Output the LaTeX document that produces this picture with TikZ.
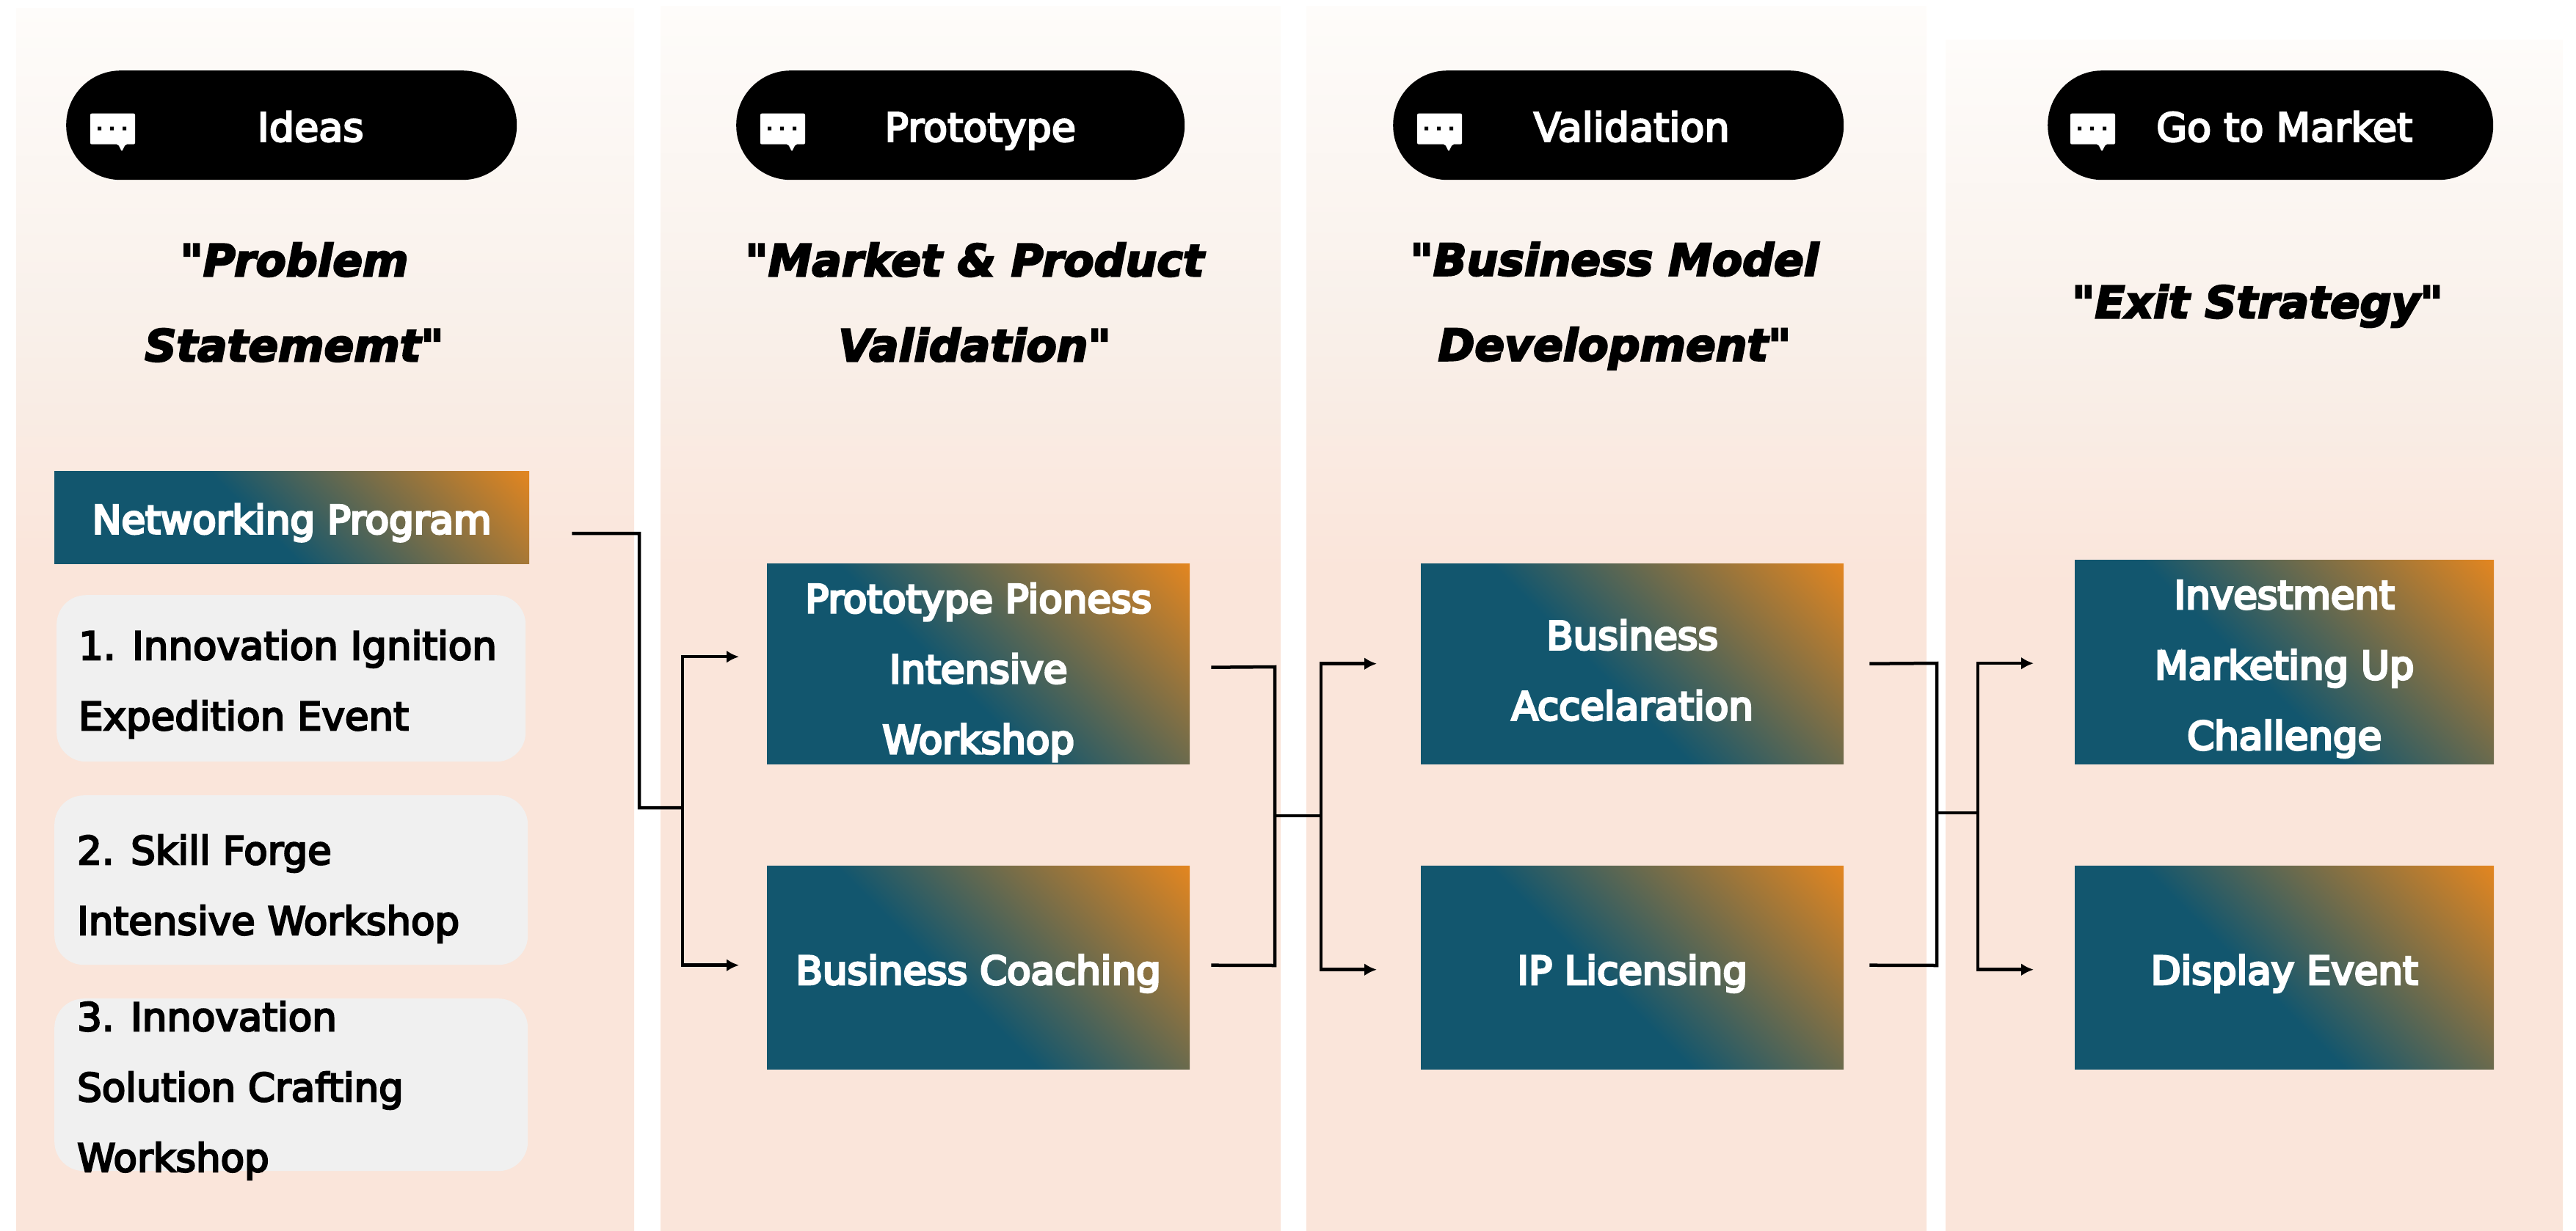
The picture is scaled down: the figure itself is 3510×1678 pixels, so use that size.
\documentclass[tikz,border=0pt]{standalone}
\usepackage{fontspec}
\setmainfont{DejaVu Sans}
\newfontfamily\headfont[FakeBold=4]{DejaVu Sans}
\newfontfamily\medfont[FakeBold=4.5]{DejaVu Sans}
\newfontfamily\strongfont[FakeBold=6]{DejaVu Sans}
\usetikzlibrary{arrows.meta,calc}
\definecolor{tealc}{HTML}{12566E}
\definecolor{orangec}{HTML}{E8871E}
\definecolor{ptop}{HTML}{FEFCFA}
\definecolor{pmid}{HTML}{F9F1EB}
\definecolor{pbot}{HTML}{FAE5DA}
\definecolor{grayb}{HTML}{F0F0F0}
\pgfdeclareverticalshading{panelshade}{100bp}{color(0bp)=(pbot); color(25bp)=(pbot); color(52bp)=(pbot); color(63bp)=(pmid); color(75bp)=(ptop); color(100bp)=(ptop)}
\pgfdeclareverticalshading{boxshade}{100bp}{color(0bp)=(tealc); color(45.3bp)=(tealc); color(86.5bp)=(orangec); color(100bp)=(orangec)}
\newcommand{\placed}[3]{\smash{\raisebox{#2}{\makebox[0pt]{\hspace*{#1}\hspace*{#1}#3}}}}
\newcommand{\lines}[1]{\parbox{640pt}{\centering #1}}
\newcommand{\leftlines}[2]{\smash{\raisebox{#1}{\parbox{583pt}{\raggedright #2}}}}
\tikzset{
  panel/.style={anchor=north west,inner sep=0pt,shading=panelshade,draw=none},
  pill/.style={anchor=north west,inner sep=0pt,fill=black,rounded corners=74pt,text=white,font=\medfont\fontsize{54}{60}\selectfont},
  gradbox/.style={anchor=north west,inner sep=0pt,shading=boxshade,shading angle=-45,text=white,font=\strongfont\fontsize{53}{96}\selectfont},
  graybox/.style={anchor=north west,inner sep=0pt,fill=grayb,rounded corners=40pt,font=\medfont\fontsize{53}{96}\selectfont,align=left},
  headtext/.style={inner sep=0pt,align=center,font=\headfont\fontsize{60}{116}\selectfont\bfseries\itshape},
  wire/.style={line width=4.5pt,draw=black},
  arrowwire/.style={wire,-{Latex[length=17pt,width=17pt]},shorten >=38pt},
  bubble/.pic={
    \fill[white,rounded corners=2pt] (0,0) -- (61,0) -- (61,42) -- (48,42) -- (43,52) -- (38,42) -- (0,42) -- cycle;
    \fill[black] (10,18) rectangle (15,23) (27,18) rectangle (32,23) (44,18) rectangle (49,23);
  }
}
\begin{document}
\begin{tikzpicture}[x=1pt,y=-1pt]
\useasboundingbox (0,0) rectangle (3510,1678);
% panels
\node[panel,minimum width=842pt,minimum height=1667pt] (c1) at (22,11) {};
\node[panel,minimum width=845pt,minimum height=1670pt] (c2) at (900,8) {};
\node[panel,minimum width=845pt,minimum height=1670pt] (c3) at (1780,8) {};
\node[panel,minimum width=841pt,minimum height=1624pt] (c4) at (2651,54) {};
% pills
\node[pill,minimum width=614pt,minimum height=149pt] (h1) at (90,96) {\placed{26pt}{-22pt}{Ideas}};
\node[pill,minimum width=611pt,minimum height=149pt] (h2) at (1003,96) {\placed{27pt}{-22pt}{Prototype}};
\node[pill,minimum width=614pt,minimum height=149pt] (h3) at (1898,96) {\placed{18pt}{-22pt}{Validation}};
\node[pill,minimum width=607pt,minimum height=149pt] (h4) at (2790,96) {\placed{19pt}{-22pt}{Go to Market}};
\pic at ([shift={(33pt,16pt)}]h1.west) {bubble};
\pic at ([shift={(33pt,16pt)}]h2.west) {bubble};
\pic at ([shift={(33pt,16pt)}]h3.west) {bubble};
\pic at ([shift={(31pt,16pt)}]h4.west) {bubble};
% headings
\node[headtext] (t1) at (401,412) {"Problem\\Statememt"};
\node[headtext] (t2) at (1328,412) {"Market \& Product\\Validation"};
\node[headtext] (t3) at (2200,417) {"Business Model\\Development"};
\node[headtext] (t4) at (3076,417) {"Exit Strategy"};
% left column
\node[gradbox,minimum width=647pt,minimum height=126pt] (net) at (74,642) {\placed{0pt}{-22pt}{Networking Program}};
\node[graybox,minimum width=639pt,minimum height=227pt] (g1) at (77,811) {\hspace*{4pt}\leftlines{-14pt}{1. Innovation Ignition\\Expedition Event}};
\node[graybox,minimum width=645pt,minimum height=231pt] (g2) at (74,1084) {\leftlines{-18pt}{2. Skill Forge\\Intensive Workshop}};
\node[graybox,minimum width=645pt,minimum height=235pt] (g3) at (74,1361) {\leftlines{-14pt}{3. Innovation\\Solution Crafting\\Workshop}};
% program boxes
\node[gradbox,minimum width=576pt,minimum height=273pt] (p1) at (1045,768) {\placed{0pt}{-18pt}{\lines{Prototype Pioness\\Intensive\\Workshop}}};
\node[gradbox,minimum width=576pt,minimum height=277pt] (p2) at (1045,1180) {\placed{0pt}{-23pt}{Business Coaching}};
\node[gradbox,minimum width=576pt,minimum height=273pt] (v1) at (1936,768) {\placed{0pt}{-15pt}{\lines{Business\\Accelaration}}};
\node[gradbox,minimum width=576pt,minimum height=277pt] (v2) at (1936,1180) {\placed{0pt}{-23pt}{IP Licensing}};
\node[gradbox,minimum width=571pt,minimum height=278pt] (m1) at (2827,763) {\placed{0pt}{-16pt}{\lines{Investment\\Marketing Up\\Challenge}}};
\node[gradbox,minimum width=571pt,minimum height=277pt] (m2) at (2827,1180) {\placed{0pt}{-23pt}{Display Event}};
% connectors, first stage
\coordinate (a0) at ([shift={(58pt,-22pt)}]net.east);
\coordinate (a1) at (871,727);
\coordinate (a2) at (871,1101);
\coordinate (a3) at (930,1101);
\draw[wire,line join=miter] (a0) -- (a1) -- (a2) -- (a3);
\draw[arrowwire] (a3) |- ([yshift=9.5pt]p1.west);
\draw[arrowwire] (a3) |- ([yshift=3pt]p2.west);
% second stage
\coordinate (b0) at ([shift={(29pt,-5pt)}]p1.east);
\coordinate (b1) at ([shift={(29pt,3pt)}]p2.east);
\coordinate (b2) at (1737,909);
\coordinate (b3) at (1737,1316);
\coordinate (b4) at (1737,1112);
\coordinate (b5) at (1800,1112);
\draw[wire] (b0) -- (b2) -- (b3) -- (b1);
\draw[wire] (b4) -- (b5);
\draw[arrowwire,shorten >=60pt] (b5) |- ([yshift=0pt]v1.west);
\draw[arrowwire,shorten >=60pt] (b5) |- ([yshift=-3pt]v2.west);
% third stage
\coordinate (d0) at ([shift={(35pt,0pt)}]v1.east);
\coordinate (d1) at ([shift={(35pt,3pt)}]v2.east);
\coordinate (d2) at (2639,904);
\coordinate (d3) at (2639,1316);
\coordinate (d4) at (2639,1108);
\coordinate (d5) at (2695,1108);
\draw[wire] (d0) -- (d2) -- (d3) -- (d1);
\draw[wire] (d4) -- (d5);
\draw[arrowwire,shorten >=56pt] (d5) |- ([yshift=-2pt]m1.west);
\draw[arrowwire,shorten >=56pt] (d5) |- ([yshift=-3pt]m2.west);
\end{tikzpicture}
\end{document}
